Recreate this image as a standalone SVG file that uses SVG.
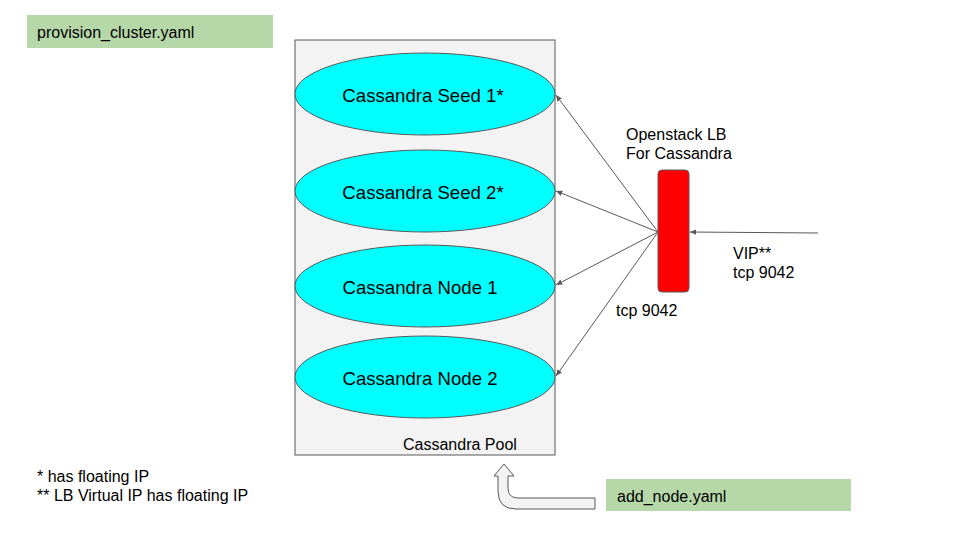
<svg xmlns="http://www.w3.org/2000/svg" width="960" height="540" viewBox="0 0 960 540">
<style>
text{font-family:"Liberation Sans",Arial,sans-serif;fill:#000}
.big{font-size:18.6px}
.lbl{font-size:16px}
.node{fill:#00ffff;stroke:#595959;stroke-width:1}
.green{fill:#b6d7a8}
.conn{stroke:#595959;stroke-width:1;fill:none}
</style>
<defs>
<marker id="ah" viewBox="0 0 10 10" refX="9" refY="5" markerWidth="7" markerHeight="7" orient="auto" markerUnits="userSpaceOnUse">
<path d="M0,1 L9,5 L0,9 Z" fill="#595959"/>
</marker>
</defs>
<rect width="960" height="540" fill="#ffffff"/>
<g id="provision">
<rect class="green" x="27" y="15" width="246" height="33"/>
<text class="lbl" x="37" y="38">provision_cluster.yaml</text>
</g>
<g id="pool">
<rect x="295" y="40" width="260" height="415" fill="#f3f3f3" stroke="#595959" stroke-width="1"/>
<text class="lbl" x="403" y="450">Cassandra Pool</text>
</g>
<g id="seed1">
<ellipse class="node" cx="425" cy="94" rx="130" ry="41"/>
<text class="big" x="423" y="102" text-anchor="middle">Cassandra Seed 1*</text>
</g>
<g id="seed2">
<ellipse class="node" cx="425" cy="191" rx="130" ry="41"/>
<text class="big" x="423" y="199" text-anchor="middle">Cassandra Seed 2*</text>
</g>
<g id="node1">
<ellipse class="node" cx="425" cy="286" rx="130" ry="41"/>
<text class="big" x="420" y="294" text-anchor="middle">Cassandra Node 1</text>
</g>
<g id="node2">
<ellipse class="node" cx="425" cy="377" rx="130" ry="41"/>
<text class="big" x="420" y="385" text-anchor="middle">Cassandra Node 2</text>
</g>
<g id="lb">
<rect x="658" y="170" width="31" height="122" rx="4" fill="#ff0000" stroke="#595959" stroke-width="1"/>
<text class="lbl" x="626" y="140">Openstack LB</text>
<text class="lbl" x="626" y="159">For Cassandra</text>
</g>
<g id="addnode">
<rect class="green" x="606" y="479" width="245" height="32"/>
<text class="lbl" x="617" y="502">add_node.yaml</text>
</g>
<g id="connectors">
<line class="conn" x1="658" y1="232" x2="556" y2="95" marker-end="url(#ah)"/>
<line class="conn" x1="658" y1="232" x2="556" y2="191" marker-end="url(#ah)"/>
<line class="conn" x1="658" y1="232" x2="556" y2="285" marker-end="url(#ah)"/>
<line class="conn" x1="658" y1="232" x2="556" y2="376" marker-end="url(#ah)"/>
<line class="conn" x1="818" y1="233" x2="690" y2="232" marker-end="url(#ah)"/>
<path d="M595,498 L518,498 Q508,498 508,488 L508,476 L514,476 L504,464 L494,476 L498,476 L498,491 Q498,509 516,509 L595,509 Z" fill="#f3f3f3" stroke="#595959" stroke-width="1"/>
</g>
<g id="labels">
<text class="lbl" x="733" y="259">VIP**</text>
<text class="lbl" x="733" y="278">tcp 9042</text>
<text class="lbl" x="616" y="316">tcp 9042</text>
<text class="lbl" x="37" y="482">* has floating IP</text>
<text class="lbl" x="37" y="501">** LB Virtual IP has floating IP</text>
</g>
</svg>
